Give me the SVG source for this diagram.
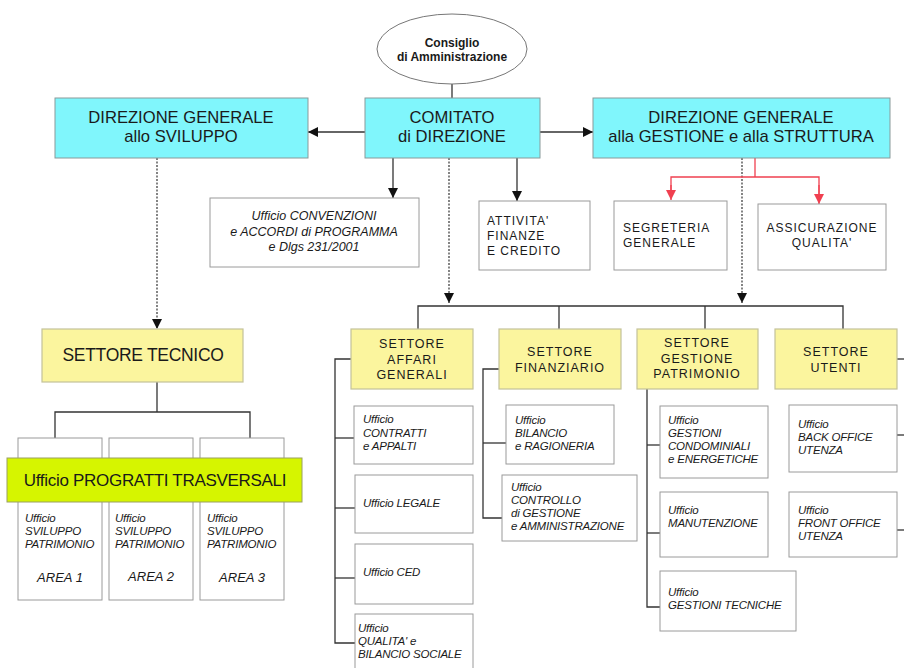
<svg xmlns="http://www.w3.org/2000/svg" width="904" height="668" viewBox="0 0 904 668">
<defs>
<marker id="ah" viewBox="0 0 10 10" refX="10" refY="5" markerWidth="10" markerHeight="10" markerUnits="userSpaceOnUse" orient="auto"><path d="M0,0 L10,5 L0,10 z" fill="#111"/></marker>
<marker id="ahr" viewBox="0 0 10 10" refX="10" refY="5" markerWidth="10" markerHeight="10" markerUnits="userSpaceOnUse" orient="auto"><path d="M0,0 L10,5 L0,10 z" fill="#f04050"/></marker>
</defs>
<style>
text{font-family:"Liberation Sans",Arial,sans-serif;fill:#1a1a1a}
.cy{fill:#80f6fc;stroke:#8a9a9a;stroke-width:1}
.ye{fill:#fbf59e;stroke:#c4c29a;stroke-width:1.2}
.gr{fill:#d6f500;stroke:#9aa060;stroke-width:1}
.of{fill:#fff;stroke:#9a9a9a;stroke-width:1}
.big{font-size:16.6px;text-anchor:middle}
.sec{font-size:12.5px;text-anchor:middle;letter-spacing:1px}
.box{font-size:12px;letter-spacing:1px}
.off{font-size:11.5px;font-style:italic;letter-spacing:-0.2px}
.ln{fill:none;stroke:#333;stroke-width:1.3}
.dt{fill:none;stroke:#333;stroke-width:1.2;stroke-dasharray:2 1.5}
.rd{fill:none;stroke:#f04050;stroke-width:1.3}
</style>
<rect width="904" height="668" fill="#fff"/>
<g id="connectors">
<line class="ln" x1="452" y1="84" x2="452" y2="98"/>
<line class="ln" x1="365" y1="132" x2="308" y2="132" marker-end="url(#ah)"/>
<line class="ln" x1="540" y1="132" x2="593" y2="132" marker-end="url(#ah)"/>
<line class="ln" x1="393" y1="158" x2="393" y2="198" marker-end="url(#ah)"/>
<line class="ln" x1="517" y1="158" x2="517" y2="201" marker-end="url(#ah)"/>
<line class="dt" x1="449" y1="158" x2="449" y2="303" marker-end="url(#ah)"/>
<line class="dt" x1="742" y1="158" x2="742" y2="303" marker-end="url(#ah)"/>
<line class="dt" x1="157" y1="158" x2="157" y2="329" marker-end="url(#ah)"/>
<polyline class="rd" points="755,158 755,177"/>
<polyline class="rd" points="671,198 671,177 819,177 819,198"/>
<line class="rd" x1="671" y1="185" x2="671" y2="200" marker-end="url(#ahr)"/>
<line class="rd" x1="819" y1="185" x2="819" y2="204" marker-end="url(#ahr)"/>
<polyline class="ln" points="157,382 157,412"/>
<polyline class="ln" points="55,438 55,412 250,412 250,438"/>
<polyline class="ln" points="418,329 418,306 843,306 843,329"/>
<line class="ln" x1="559" y1="306" x2="559" y2="329"/>
<line class="ln" x1="705" y1="306" x2="705" y2="329"/>
<polyline class="ln" points="351,359 335,359 335,643 355,643"/>
<line class="ln" x1="335" y1="438" x2="354" y2="438"/>
<line class="ln" x1="335" y1="508" x2="355" y2="508"/>
<line class="ln" x1="335" y1="578" x2="355" y2="578"/>
<polyline class="ln" points="499,369 483,369 483,518 502,518"/>
<line class="ln" x1="483" y1="443" x2="506" y2="443"/>
<polyline class="ln" points="647,389 647,607 660,607"/>
<line class="ln" x1="647" y1="445" x2="660" y2="445"/>
<line class="ln" x1="647" y1="533" x2="660" y2="533"/>
<line class="ln" x1="897" y1="359" x2="904" y2="359"/>
<line class="ln" x1="897" y1="435" x2="904" y2="435"/>
<line class="ln" x1="897" y1="530" x2="904" y2="530"/>
</g>
<g id="consiglio">
<ellipse cx="452" cy="49" rx="75" ry="35" fill="#fff" stroke="#777" stroke-width="1"/>
<text x="452" y="47" font-size="12" font-weight="bold" text-anchor="middle">Consiglio</text>
<text x="452" y="61" font-size="12" font-weight="bold" text-anchor="middle">di Amministrazione</text>
</g>
<g id="dir-sviluppo">
<rect class="cy" x="55" y="98" width="253" height="60"/>
<text class="big" x="181" y="123">DIREZIONE GENERALE</text>
<text class="big" x="181" y="142">allo SVILUPPO</text>
</g>
<g id="comitato">
<rect class="cy" x="365" y="98" width="175" height="60"/>
<text class="big" x="452" y="123">COMITATO</text>
<text class="big" x="452" y="142">di DIREZIONE</text>
</g>
<g id="dir-gestione">
<rect class="cy" x="593" y="98" width="297" height="60"/>
<text class="big" x="741" y="123">DIREZIONE GENERALE</text>
<text class="big" x="741" y="142">alla GESTIONE e alla STRUTTURA</text>
</g>
<g id="convenzioni">
<rect class="of" x="210" y="198" width="209" height="69"/>
<text x="314" y="220" font-size="12.5" font-style="italic" text-anchor="middle">Ufficio CONVENZIONI</text>
<text x="314" y="236" font-size="12.5" font-style="italic" text-anchor="middle">e ACCORDI di PROGRAMMA</text>
<text x="314" y="251" font-size="12.5" font-style="italic" text-anchor="middle">e Dlgs 231/2001</text>
</g>
<g id="attivita">
<rect class="of" x="479" y="201" width="111" height="69"/>
<text class="box" x="487" y="225">ATTIVITA'</text>
<text class="box" x="487" y="240">FINANZE</text>
<text class="box" x="487" y="255">E CREDITO</text>
</g>
<g id="segreteria">
<rect class="of" x="614" y="201" width="113" height="69"/>
<text class="box" x="623" y="232">SEGRETERIA</text>
<text class="box" x="623" y="247">GENERALE</text>
</g>
<g id="assicurazione">
<rect class="of" x="758" y="204" width="128" height="66"/>
<text class="box" x="822" y="232" text-anchor="middle">ASSICURAZIONE</text>
<text class="box" x="822" y="247" text-anchor="middle">QUALITA'</text>
</g>
<g id="settore-tecnico">
<rect class="ye" x="42" y="329" width="201" height="53"/>
<text x="143" y="361" font-size="17.5" text-anchor="middle" letter-spacing="-0.3">SETTORE TECNICO</text>
</g>
<g id="area1">
<rect class="of" x="18" y="438" width="84" height="162"/>
<text class="off" x="25" y="522">Ufficio</text>
<text class="off" x="25" y="535">SVILUPPO</text>
<text class="off" x="25" y="548">PATRIMONIO</text>
<text x="60" y="582" font-size="13" font-style="italic" text-anchor="middle">AREA 1</text>
</g>
<g id="area2">
<rect class="of" x="109" y="438" width="84" height="162"/>
<text class="off" x="115" y="522">Ufficio</text>
<text class="off" x="115" y="535">SVILUPPO</text>
<text class="off" x="115" y="548">PATRIMONIO</text>
<text x="151" y="581" font-size="13" font-style="italic" text-anchor="middle">AREA 2</text>
</g>
<g id="area3">
<rect class="of" x="200" y="438" width="84" height="162"/>
<text class="off" x="207" y="522">Ufficio</text>
<text class="off" x="207" y="535">SVILUPPO</text>
<text class="off" x="207" y="548">PATRIMONIO</text>
<text x="242" y="582" font-size="13" font-style="italic" text-anchor="middle">AREA 3</text>
</g>
<g id="progetti">
<rect class="gr" x="7" y="458" width="295" height="44"/>
<text x="155" y="486" font-size="17" text-anchor="middle" letter-spacing="-0.3">Ufficio PROGRATTI TRASVERSALI</text>
</g>
<g id="affari-generali">
<rect class="ye" x="351" y="329" width="122" height="60"/>
<text class="sec" x="412" y="348">SETTORE</text>
<text class="sec" x="412" y="364">AFFARI</text>
<text class="sec" x="412" y="379">GENERALI</text>
</g>
<g id="finanziario">
<rect class="ye" x="499" y="329" width="122" height="60"/>
<text class="sec" x="560" y="356">SETTORE</text>
<text class="sec" x="560" y="372">FINANZIARIO</text>
</g>
<g id="gestione-patrimonio">
<rect class="ye" x="637" y="329" width="121" height="60"/>
<text class="sec" x="697" y="347">SETTORE</text>
<text class="sec" x="697" y="363">GESTIONE</text>
<text class="sec" x="697" y="378">PATRIMONIO</text>
</g>
<g id="utenti">
<rect class="ye" x="775" y="329" width="122" height="60"/>
<text class="sec" x="836" y="356">SETTORE</text>
<text class="sec" x="836" y="372">UTENTI</text>
</g>
<g id="contratti">
<rect class="of" x="354" y="406" width="119" height="58"/>
<text class="off" x="363" y="423">Ufficio</text>
<text class="off" x="363" y="437">CONTRATTI</text>
<text class="off" x="363" y="450">e APPALTI</text>
</g>
<g id="legale">
<rect class="of" x="355" y="475" width="118" height="58"/>
<text class="off" x="363" y="507">Ufficio LEGALE</text>
</g>
<g id="ced">
<rect class="of" x="355" y="544" width="118" height="60"/>
<text class="off" x="363" y="576">Ufficio CED</text>
</g>
<g id="qualita">
<rect class="of" x="355" y="614" width="118" height="60"/>
<text class="off" x="358" y="632">Ufficio</text>
<text class="off" x="358" y="645">QUALITA' e</text>
<text class="off" x="358" y="658">BILANCIO SOCIALE</text>
</g>
<g id="bilancio">
<rect class="of" x="506" y="405" width="108" height="59"/>
<text class="off" x="515" y="424">Ufficio</text>
<text class="off" x="515" y="437">BILANCIO</text>
<text class="off" x="515" y="450">e RAGIONERIA</text>
</g>
<g id="controllo">
<rect class="of" x="502" y="475" width="135" height="66"/>
<text class="off" x="511" y="491">Ufficio</text>
<text class="off" x="511" y="504">CONTROLLO</text>
<text class="off" x="511" y="517">di GESTIONE</text>
<text class="off" x="511" y="530">e AMMINISTRAZIONE</text>
</g>
<g id="condominiali">
<rect class="of" x="660" y="406" width="108" height="72"/>
<text class="off" x="668" y="424">Ufficio</text>
<text class="off" x="668" y="437">GESTIONI</text>
<text class="off" x="668" y="450">CONDOMINIALI</text>
<text class="off" x="668" y="463">e ENERGETICHE</text>
</g>
<g id="manutenzione">
<rect class="of" x="660" y="492" width="108" height="65"/>
<text class="off" x="668" y="514">Ufficio</text>
<text class="off" x="668" y="527">MANUTENZIONE</text>
</g>
<g id="gestioni-tecniche">
<rect class="of" x="660" y="571" width="136" height="60"/>
<text class="off" x="668" y="596">Ufficio</text>
<text class="off" x="668" y="609">GESTIONI TECNICHE</text>
</g>
<g id="back-office">
<rect class="of" x="789" y="405" width="108" height="67"/>
<text class="off" x="798" y="428">Ufficio</text>
<text class="off" x="798" y="441">BACK OFFICE</text>
<text class="off" x="798" y="454">UTENZA</text>
</g>
<g id="front-office">
<rect class="of" x="789" y="492" width="108" height="65"/>
<text class="off" x="798" y="514">Ufficio</text>
<text class="off" x="798" y="527">FRONT OFFICE</text>
<text class="off" x="798" y="540">UTENZA</text>
</g>
</svg>
